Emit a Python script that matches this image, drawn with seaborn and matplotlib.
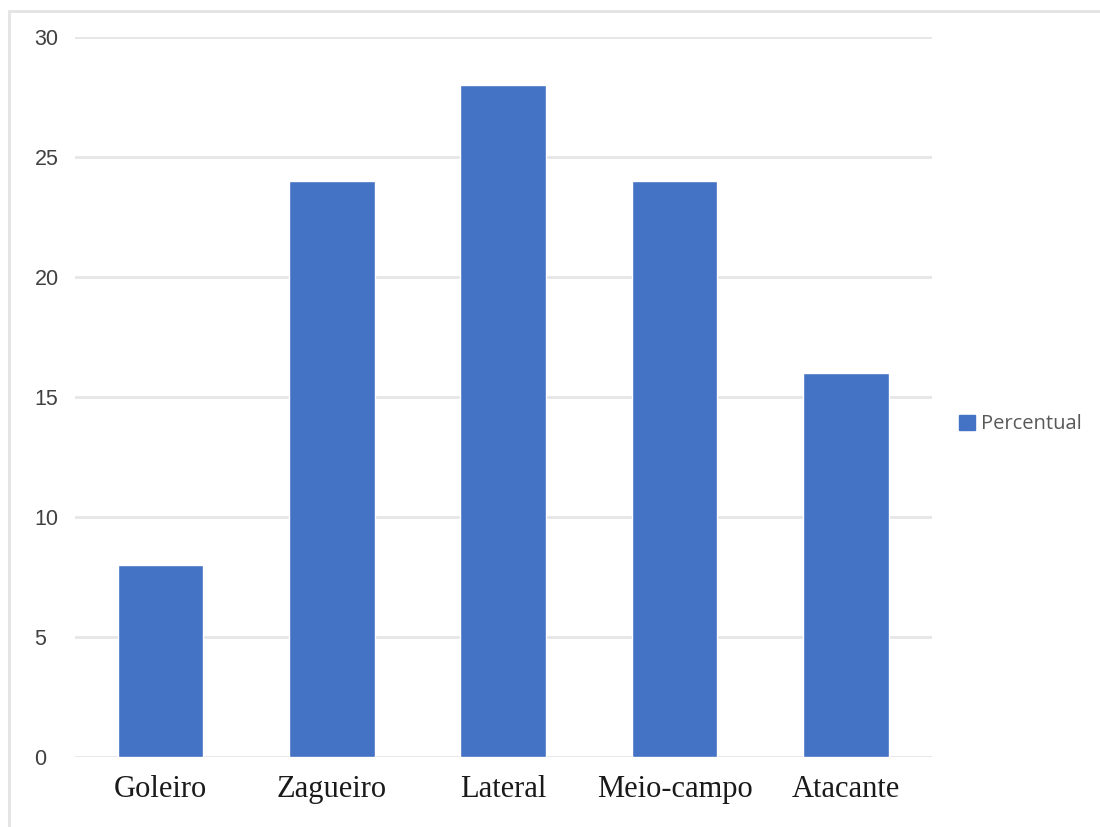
import matplotlib
matplotlib.use("Agg")
import matplotlib.pyplot as plt
import matplotlib.patches as mpatches
import seaborn as sns
import pandas as pd

categorias = ["Goleiro", "Zagueiro", "Lateral", "Meio-campo", "Atacante"]
percentual = [8, 24, 28, 24, 16]
yticks = [0, 5, 10, 15, 20, 25, 30]

sns.set_theme(style="white")
plt.rcParams["font.family"] = ["Liberation Serif", "DejaVu Serif"]

df = pd.DataFrame({"Posição": categorias, "Percentual": percentual})

fig = plt.figure(figsize=(11, 8.27), dpi=100)
ax = fig.add_axes([0.068, 0.0846, 0.779, 0.8705])

cor = "#4472C4"
sns.barplot(data=df, x="Posição", y="Percentual", color=cor, width=0.5,
            saturation=1, ax=ax)

ax.set_ylim(0, 30)
ax.set_yticks(yticks)
ax.set_yticklabels([str(v) for v in yticks], fontsize=15.5, color="#404040",
                   family=["Liberation Sans", "DejaVu Sans"])
for lbl in ax.get_yticklabels():
    lbl.set_horizontalalignment("left")
ax.tick_params(axis="x", labelsize=22, colors="#1a1a1a", length=0, pad=13)
ax.tick_params(axis="y", length=0, pad=29)
ax.set_xlabel("")
ax.set_ylabel("")
ax.set_axisbelow(True)
ax.yaxis.grid(True, color="#e6e6e6", linewidth=2)
for s in ax.spines.values():
    s.set_visible(False)

# legend at the right
handle = mpatches.Patch(color=cor, label="Percentual")
fig.legend(handles=[handle], loc="center left", bbox_to_anchor=(0.855, 0.487),
           frameon=False, handlelength=0.8, handleheight=0.8, handletextpad=0.3,
           prop={"family": "Open Sans", "size": 14.5}, labelcolor="#595959")

# light outer frame
fig.add_artist(mpatches.Rectangle((0.008, -0.01), 1.0, 0.997, transform=fig.transFigure,
                                  fill=False, edgecolor="#e3e3e3", linewidth=2))

fig.savefig("out.png", dpi=100)
